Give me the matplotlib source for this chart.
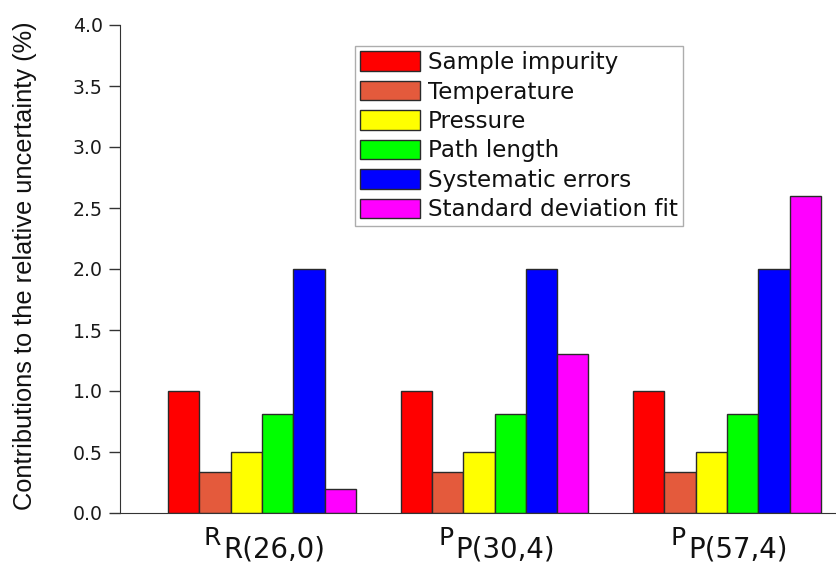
import matplotlib
matplotlib.use("Agg")
import matplotlib.pyplot as plt
import matplotlib.transforms as mtransforms
import numpy as np

plt.rcParams['font.family'] = ['DejaVu Sans']

main_letters = ['R', 'P', 'P']
sub_labels = ['R(26,0)', 'P(30,4)', 'P(57,4)']
series_names = ['Sample impurity', 'Temperature', 'Pressure', 'Path length',
                'Systematic errors', 'Standard deviation fit']
sample_impurity = [1.0, 1.0, 1.0]
temperature = [0.34, 0.34, 0.34]
pressure = [0.5, 0.5, 0.5]
path_length = [0.81, 0.81, 0.81]
systematic_errors = [2.0, 2.0, 2.0]
std_dev_fit = [0.2, 1.3, 2.6]
series = [sample_impurity, temperature, pressure, path_length, systematic_errors, std_dev_fit]
colors = ['#FF0000', '#E45A3C', '#FFFF00', '#00FF00', '#0000FF', '#FF00FF']
yticks = [0.0, 0.5, 1.0, 1.5, 2.0, 2.5, 3.0, 3.5, 4.0]

W, H = 837, 563
fig = plt.figure(figsize=(W / 100, H / 100), dpi=100)
ax_left, ax_bottom, ax_top = 120, 513, 25
ax = fig.add_axes([ax_left / W, 1 - ax_bottom / H, 1 - ax_left / W, (ax_bottom - ax_top) / H])

x = np.arange(1, len(sub_labels) + 1)
w = 0.1347
for i, (vals, name, c) in enumerate(zip(series, series_names, colors)):
    ax.bar(x + (i - 2.5) * w, vals, width=w, color=c, edgecolor='#2a2a2a',
           linewidth=1.0, label=name)

ax.set_xlim(0.389, 3.473)
ax.set_ylim(0, 4.0)
ax.set_yticks(yticks)
ax.set_yticklabels([f'{v:.1f}' for v in yticks], fontsize=13.6, color='#1a1a1a')
ax.set_xticks(x)
ax.set_xticklabels([''] * len(x))
ax.tick_params(axis='x', length=0)
ax.tick_params(axis='y', length=8, width=1, direction='out', color='#333333', pad=4.3)
ax.spines['top'].set_visible(False)
ax.spines['right'].set_visible(False)
ax.spines['left'].set_color('#333333')
ax.spines['bottom'].set_color('#333333')

# category labels: main letter with a (large) subscript
blend = mtransforms.blended_transform_factory(ax.transData, ax.transAxes)
for xi, m, s in zip(x, main_letters, sub_labels):
    t_main = mtransforms.offset_copy(blend, fig=fig, x=-29.5, y=-23.0, units='points')
    ax.text(xi, 0, m, transform=t_main, ha='right', va='baseline',
            fontsize=18.0, color='#111111')
    t_sub = mtransforms.offset_copy(blend, fig=fig, x=-28.1, y=-31.7, units='points')
    ax.text(xi, 0, s, transform=t_sub, ha='left', va='baseline',
            fontsize=19.8, color='#111111')

ax.set_ylabel('Contributions to the relative uncertainty (%)', fontsize=18.3,
              family=['Liberation Sans', 'DejaVu Sans'], color='#111111')
ax.yaxis.set_label_coords((37 - ax_left) / (W - ax_left), 0.5 + 3.0 / (ax_bottom - ax_top))

leg = ax.legend(loc='upper left',
                bbox_to_anchor=((355 - ax_left) / (W - ax_left), (ax_bottom - 46) / (ax_bottom - ax_top)),
                borderaxespad=0, fontsize=16.6, frameon=True, fancybox=False,
                edgecolor='#999999', handlelength=2.6, handleheight=0.92,
                handletextpad=0.35, labelspacing=0.28, borderpad=0.22)
leg.get_frame().set_linewidth(1.0)
for t in leg.get_texts():
    t.set_color('#111111')

fig.savefig('out.png', dpi=100)
